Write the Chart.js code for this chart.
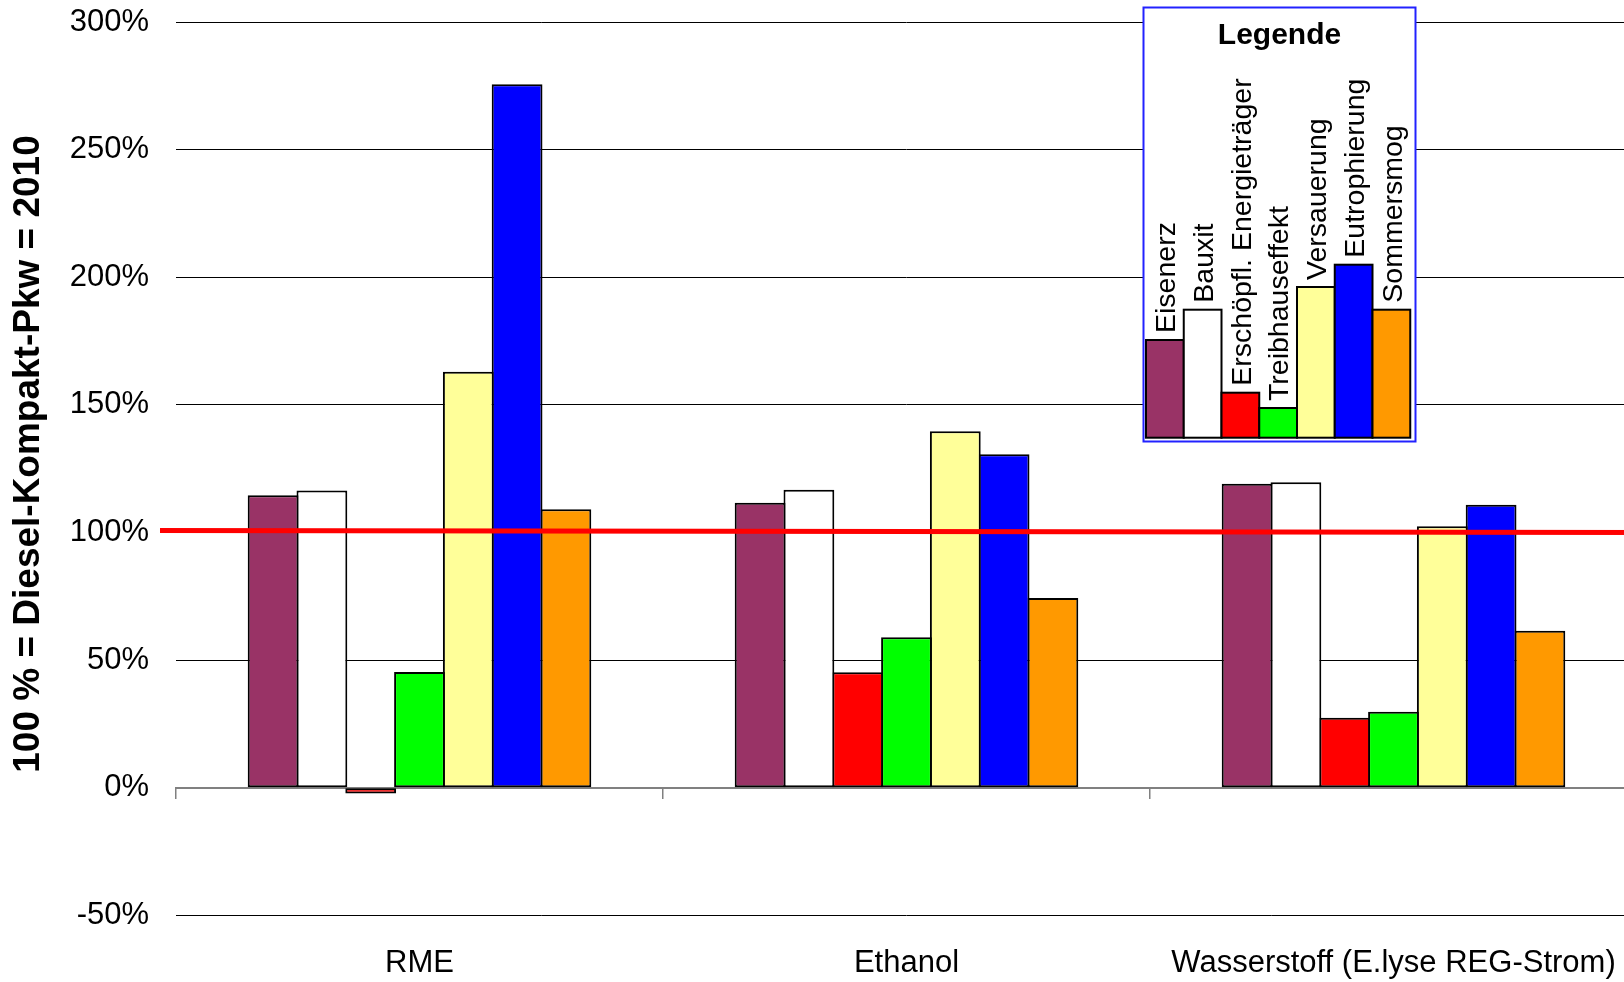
<!DOCTYPE html>
<html lang="de">
<head>
<meta charset="utf-8">
<title>Umweltwirkungen alternativer Kraftstoffe</title>
<script src="https://cdn.jsdelivr.net/npm/chart.js@4.4.1/dist/chart.umd.min.js"></script>
<style>
  html, body { margin: 0; padding: 0; background: #ffffff; overflow: hidden; }
  canvas { display: block; }
</style>
</head>
<body>
<canvas id="chart" width="1650" height="982"></canvas>
<script>
// Kraftstoffpfade (Kategorien)
const categories = ['RME', 'Ethanol', 'Wasserstoff (E.lyse REG-Strom)'];

// Wirkungskategorien in % des Diesel-Kompakt-Pkw 2010
const seriesNames = ['Eisenerz', 'Bauxit', 'Erschöpfl. Energieträger', 'Treibhauseffekt',
                     'Versauerung', 'Eutrophierung', 'Sommersmog'];
const eisenerz      = [114.6, 111.6, 119.1];
const bauxit        = [116.4, 116.7, 119.7];
const erschoepfl    = [-2.3, 45.2, 27.4];
const treibhaus     = [45.3, 58.9, 29.8];
const versauerung   = [163.0, 139.7, 102.4];
const eutrophierung = [275.6, 130.6, 110.9];
const sommersmog    = [109.1, 74.3, 61.5];

// Achsenbeschriftung
const yTickValues = [-50, 0, 50, 100, 150, 200, 250, 300];
const yTitle = '100 % = Diesel-Kompakt-Pkw = 2010';

// Bezugslinie (Diesel = 100 %), Wert am linken und rechten Rand
const referenceLine = [100.8, 100];

const seriesValues = [eisenerz, bauxit, erschoepfl, treibhaus, versauerung, eutrophierung, sommersmog];
const seriesColors = ['#993366', '#FFFFFF', '#FF0000', '#00FF00', '#FFFF99', '#0000FF', '#FF9900'];

const FONT = "'Liberation Sans', Arial, sans-serif";
Chart.defaults.font.family = FONT;
Chart.defaults.color = '#000000';

// Bezugslinie bei 100 %
const referenceLinePlugin = {
  id: 'referenceLine',
  afterDatasetsDraw(chart) {
    const { ctx, chartArea, scales } = chart;
    const y = scales.y;
    ctx.save();
    ctx.strokeStyle = '#FF0000';
    ctx.lineWidth = 5;
    ctx.beginPath();
    ctx.moveTo(chartArea.left - 16, y.getPixelForValue(referenceLine[0]));
    ctx.lineTo(chartArea.right, y.getPixelForValue(referenceLine[1]));
    ctx.stroke();
    ctx.restore();
  }
};

// Gedrehter Titel der y-Achse
const yTitlePlugin = {
  id: 'yTitle',
  afterDraw(chart) {
    const { ctx } = chart;
    ctx.save();
    ctx.translate(39, 454);
    ctx.rotate(-Math.PI / 2);
    ctx.font = 'bold 37px ' + FONT;
    ctx.fillStyle = '#000000';
    ctx.textAlign = 'center';
    ctx.textBaseline = 'alphabetic';
    ctx.fillText(yTitle, 0, 0);
    ctx.restore();
  }
};

// Legende als kleines Säulenschema mit senkrechten Beschriftungen
const boxLegendPlugin = {
  id: 'boxLegend',
  afterDraw(chart, args, opts) {
    const { ctx } = chart;
    const b = opts.box;
    ctx.save();
    ctx.fillStyle = '#FFFFFF';
    ctx.fillRect(b.x, b.y, b.w, b.h);
    ctx.strokeStyle = '#2222FF';
    ctx.lineWidth = 2;
    ctx.strokeRect(b.x, b.y, b.w, b.h);

    ctx.fillStyle = '#000000';
    ctx.font = 'bold 30px ' + FONT;
    ctx.textAlign = 'center';
    ctx.textBaseline = 'alphabetic';
    ctx.fillText(opts.title, b.x + b.w / 2, b.y + 36);

    const fs = 28.5;
    chart.data.datasets.forEach((ds, i) => {
      const left = opts.barsLeft + i * opts.barWidth;
      const h = opts.swatchHeights[i];
      const top = opts.barsBottom - h;
      ctx.fillStyle = ds.backgroundColor;
      ctx.fillRect(left, top, opts.barWidth, h);
      ctx.strokeStyle = '#000000';
      ctx.lineWidth = 2;
      ctx.strokeRect(left, top, opts.barWidth, h);

      ctx.save();
      ctx.translate(left + opts.barWidth / 2 + fs * 0.716 / 2, top - 7);
      ctx.rotate(-Math.PI / 2);
      ctx.font = fs + 'px ' + FONT;
      ctx.fillStyle = '#000000';
      ctx.textAlign = 'left';
      ctx.textBaseline = 'alphabetic';
      ctx.fillText(ds.label, 0, 0);
      ctx.restore();
    });
    ctx.restore();
  }
};

new Chart(document.getElementById('chart'), {
  type: 'bar',
  data: {
    labels: categories,
    datasets: seriesNames.map((name, i) => ({
      label: name,
      data: seriesValues[i],
      backgroundColor: seriesColors[i],
      borderColor: '#000000',
      borderWidth: 2,
      borderSkipped: false,
      inflateAmount: 0,
      categoryPercentage: 0.7014,
      barPercentage: 1.041
    }))
  },
  options: {
    responsive: false,
    animation: false,
    events: [],
    layout: { padding: { top: 22, right: 13, bottom: 0, left: 0 } },
    plugins: {
      legend: { display: false },
      tooltip: { enabled: false },
      title: { display: false },
      boxLegend: {
        title: 'Legende',
        box: { x: 1143.5, y: 7.5, w: 272, h: 434 },
        barsLeft: 1146,
        barWidth: 37.75,
        barsBottom: 437.7,
        swatchHeights: [97.7, 128, 45, 29.7, 150.7, 173, 128]
      }
    },
    scales: {
      x: {
        type: 'category',
        position: 'bottom',
        offset: true,
        border: { display: false },
        grid: { display: false, drawTicks: false, offset: true },
        ticks: { font: { size: 31 }, color: '#000000', padding: 30, maxRotation: 0, autoSkip: false },
        afterFit(scale) { scale.height = 66.7; }
      },
      x2: {
        type: 'category',
        axis: 'x',
        position: { y: 0 },
        labels: categories,
        offset: true,
        border: { display: true, color: '#808080', width: 2 },
        grid: { drawOnChartArea: false, drawTicks: true, tickLength: 10, color: '#808080', lineWidth: 1.5, offset: true },
        ticks: { display: false }
      },
      y: {
        type: 'linear',
        min: -50,
        max: 300,
        afterBuildTicks(scale) { scale.ticks = yTickValues.map(v => ({ value: v })); },
        border: { display: false },
        grid: {
          drawTicks: false,
          color: ctx => (ctx.tick && ctx.tick.value === 0) ? '#808080' : '#000000',
          lineWidth: 1
        },
        ticks: {
          font: { size: 31 },
          color: '#000000',
          padding: 27,
          callback: v => v + '%'
        },
        afterFit(scale) {
          scale.width = 176;
          scale.paddingTop = 0;
          scale.paddingBottom = 0;
        }
      }
    }
  },
  plugins: [referenceLinePlugin, yTitlePlugin, boxLegendPlugin]
});
</script>
</body>
</html>
